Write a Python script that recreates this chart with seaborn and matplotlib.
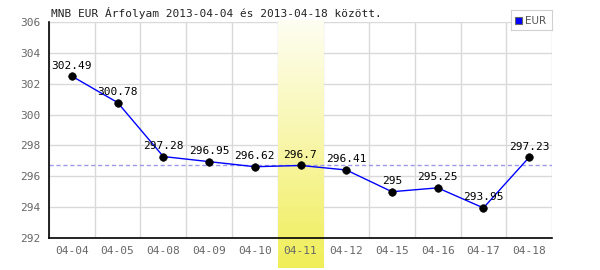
import numpy as np
import pandas as pd
import matplotlib
matplotlib.use("Agg")
import matplotlib.pyplot as plt
from matplotlib.colors import LinearSegmentedColormap
import seaborn as sns

dates = ["04-04", "04-05", "04-08", "04-09", "04-10", "04-11", "04-12", "04-15", "04-16", "04-17", "04-18"]
rates = [302.49, 300.78, 297.28, 296.95, 296.62, 296.7, 296.41, 295.0, 295.25, 293.95, 297.23]
label_texts = ["302.49", "300.78", "297.28", "296.95", "296.62", "296.7", "296.41", "295", "295.25", "293.95", "297.23"]
ref_level = 296.7
highlight = "04-11"
title = "MNB EUR Árfolyam 2013-04-04 és 2013-04-18 között."
series_name = "EUR"
yticks = [292, 294, 296, 298, 300, 302, 304, 306]

sns.set_style("white")
plt.rcParams['font.family'] = ['DejaVu Sans Mono', 'DejaVu Sans']

df = pd.DataFrame({"idx": np.arange(len(dates)), "date": dates, "rate": rates})

fig = plt.figure(figsize=(6, 2.7), dpi=100)
ax = fig.add_axes([49/600, 32/270, 503/600, 216/270])
ax.set_xlim(-0.5, len(dates) - 0.5)
ax.set_ylim(292, 306)

# grid
for b in np.arange(-0.5, len(dates) + 0.5, 1):
    ax.axvline(b, color="#d9d9d9", lw=1, zorder=0)
for t in yticks:
    ax.axhline(t, color="#d9d9d9", lw=1, zorder=0)

# highlight gradient
hi = dates.index(highlight)
cmap = LinearSegmentedColormap.from_list("hl", ["#fefef2", "#f8f6a8", "#f0ee58"])
grad = np.linspace(0, 1, 256).reshape(-1, 1)
ybottom = 292 - 30 / (216 / 14)
ax.imshow(grad, cmap=cmap, aspect="auto", extent=(hi - 0.5, hi + 0.5, ybottom, 306.1),
          origin="upper", zorder=0.5, clip_on=False)

ax.axhline(ref_level, color="#9a9ae6", lw=1, ls=(0, (3, 2)), zorder=1)

sns.lineplot(data=df, x="idx", y="rate", color="#0000ff", lw=1, ax=ax, zorder=2, sort=False)
sns.scatterplot(data=df, x="idx", y="rate", color="black", s=30, edgecolor="black", ax=ax, zorder=3)

for i, (v, t) in enumerate(zip(rates, label_texts)):
    ax.annotate(t, (i, v), xytext=(0, 4), textcoords="offset points", ha="center", va="bottom",
                fontsize=8, color="black", zorder=4)

ax.set_xticks(range(len(dates)))
ax.set_xticklabels(dates)
ax.set_yticks(yticks)
ax.tick_params(axis="both", length=0, labelsize=8, colors="#666666", pad=6)
ax.set_xlabel("")
ax.set_ylabel("")
for s in ["top", "right"]:
    ax.spines[s].set_visible(False)
for s in ["left", "bottom"]:
    ax.spines[s].set_color("black")
    ax.spines[s].set_linewidth(1.2)
    ax.spines[s].set_zorder(5)

fig.text(51/600, 1 - 13/270, title, fontsize=8, color="#222222", ha="left", va="center")

# legend box
lg_ax = fig.add_axes([511/600, 1 - 30/270, 41/600, 20/270])
lg_ax.set_xlim(0, 41)
lg_ax.set_ylim(0, 20)
lg_ax.set_xticks([])
lg_ax.set_yticks([])
for s in lg_ax.spines.values():
    s.set_color("#d0d0d0")
lg_ax.add_patch(plt.Rectangle((4, 6), 7, 7, facecolor="#0000ff", edgecolor="#666666", lw=0.8))
lg_ax.text(13.5, 9.5, series_name, fontsize=7.5, color="#555555", va="center", ha="left",
           family="DejaVu Sans")

fig.savefig("out.png", dpi=100)
